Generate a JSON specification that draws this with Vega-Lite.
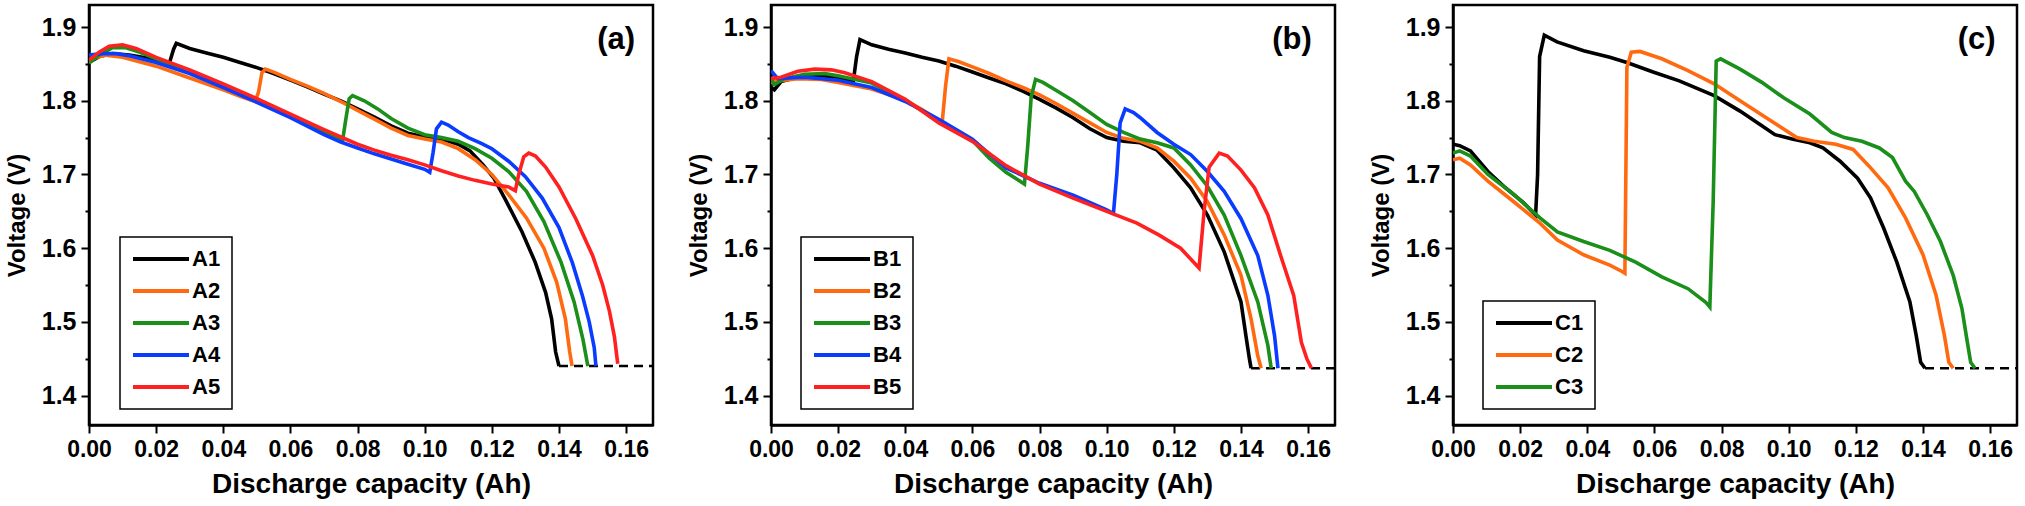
{
  "$schema": "https://vega.github.io/schema/vega-lite/v6.json",
  "padding": {"left": 3, "top": 3, "right": 5, "bottom": 0},
  "spacing": 30,
  "config": {
    "font": "Liberation Sans",
    "view": {"stroke": "black", "strokeWidth": 2.5},
    "axis": {
      "grid": false,
      "domainColor": "black",
      "domainWidth": 2.5,
      "tickColor": "black",
      "tickWidth": 2,
      "labelFont": "Liberation Sans",
      "labelFontWeight": "bold",
      "labelColor": "black",
      "labelOverlap": false,
      "labelFlush": false,
      "labelBound": false,
      "titleFont": "Liberation Sans",
      "titleFontWeight": "bold",
      "titleColor": "black"
    },
    "axisX": {"labelFontSize": 23, "labelPadding": 5, "titleFontSize": 28, "titlePadding": 9},
    "axisY": {"labelFontSize": 25, "labelPadding": 5, "titleFontSize": 24, "titlePadding": 12},
    "legend": {
      "strokeColor": "black",
      "strokeWidth": 1.5,
      "fillColor": "white",
      "padding": 11,
      "labelFont": "Liberation Sans",
      "labelFontSize": 22,
      "labelFontWeight": "bold",
      "labelColor": "black",
      "labelOffset": 20,
      "symbolType": "M-4,0H4",
      "symbolSize": 196,
      "symbolStrokeWidth": 4,
      "symbolOffset": 19,
      "rowPadding": 10
    },
    "text": {"font": "Liberation Sans"}
  },
  "datasets": {
    "a": [
      {"s": "A1", "x": 0, "v": 1.852}, {"s": "A1", "x": 0.003, "v": 1.86}, {"s": "A1", "x": 0.007, "v": 1.864}, {"s": "A1", "x": 0.012, "v": 1.862}, {"s": "A1", "x": 0.02, "v": 1.856}, {"s": "A1", "x": 0.024, "v": 1.852}, {"s": "A1", "x": 0.0252, "v": 1.87}, {"s": "A1", "x": 0.026, "v": 1.878}, {"s": "A1", "x": 0.03, "v": 1.871}, {"s": "A1", "x": 0.035, "v": 1.865}, {"s": "A1", "x": 0.04, "v": 1.859}, {"s": "A1", "x": 0.045, "v": 1.852}, {"s": "A1", "x": 0.05, "v": 1.845}, {"s": "A1", "x": 0.055, "v": 1.837}, {"s": "A1", "x": 0.06, "v": 1.828}, {"s": "A1", "x": 0.065, "v": 1.819}, {"s": "A1", "x": 0.07, "v": 1.809}, {"s": "A1", "x": 0.075, "v": 1.8}, {"s": "A1", "x": 0.08, "v": 1.789}, {"s": "A1", "x": 0.085, "v": 1.778}, {"s": "A1", "x": 0.09, "v": 1.766}, {"s": "A1", "x": 0.095, "v": 1.756}, {"s": "A1", "x": 0.1, "v": 1.751}, {"s": "A1", "x": 0.105, "v": 1.748}, {"s": "A1", "x": 0.11, "v": 1.741}, {"s": "A1", "x": 0.1135, "v": 1.732}, {"s": "A1", "x": 0.1174, "v": 1.713}, {"s": "A1", "x": 0.1206, "v": 1.695}, {"s": "A1", "x": 0.1238, "v": 1.668}, {"s": "A1", "x": 0.129, "v": 1.622}, {"s": "A1", "x": 0.1329, "v": 1.581}, {"s": "A1", "x": 0.136, "v": 1.54}, {"s": "A1", "x": 0.1378, "v": 1.504}, {"s": "A1", "x": 0.139, "v": 1.459}, {"s": "A1", "x": 0.14, "v": 1.44},
      {"s": "A2", "x": 0, "v": 1.856}, {"s": "A2", "x": 0.005, "v": 1.862}, {"s": "A2", "x": 0.01, "v": 1.859}, {"s": "A2", "x": 0.02, "v": 1.847}, {"s": "A2", "x": 0.03, "v": 1.831}, {"s": "A2", "x": 0.04, "v": 1.815}, {"s": "A2", "x": 0.045, "v": 1.806}, {"s": "A2", "x": 0.0495, "v": 1.799}, {"s": "A2", "x": 0.0505, "v": 1.812}, {"s": "A2", "x": 0.0515, "v": 1.838}, {"s": "A2", "x": 0.0525, "v": 1.843}, {"s": "A2", "x": 0.055, "v": 1.839}, {"s": "A2", "x": 0.06, "v": 1.829}, {"s": "A2", "x": 0.065, "v": 1.82}, {"s": "A2", "x": 0.07, "v": 1.81}, {"s": "A2", "x": 0.075, "v": 1.799}, {"s": "A2", "x": 0.08, "v": 1.787}, {"s": "A2", "x": 0.085, "v": 1.775}, {"s": "A2", "x": 0.09, "v": 1.763}, {"s": "A2", "x": 0.095, "v": 1.753}, {"s": "A2", "x": 0.1, "v": 1.748}, {"s": "A2", "x": 0.105, "v": 1.744}, {"s": "A2", "x": 0.11, "v": 1.735}, {"s": "A2", "x": 0.115, "v": 1.72}, {"s": "A2", "x": 0.12, "v": 1.7}, {"s": "A2", "x": 0.1251, "v": 1.672}, {"s": "A2", "x": 0.1303, "v": 1.641}, {"s": "A2", "x": 0.1355, "v": 1.6}, {"s": "A2", "x": 0.1393, "v": 1.554}, {"s": "A2", "x": 0.1419, "v": 1.504}, {"s": "A2", "x": 0.1432, "v": 1.459}, {"s": "A2", "x": 0.1439, "v": 1.44},
      {"s": "A3", "x": 0, "v": 1.851}, {"s": "A3", "x": 0.003, "v": 1.862}, {"s": "A3", "x": 0.007, "v": 1.872}, {"s": "A3", "x": 0.011, "v": 1.872}, {"s": "A3", "x": 0.015, "v": 1.866}, {"s": "A3", "x": 0.02, "v": 1.857}, {"s": "A3", "x": 0.03, "v": 1.84}, {"s": "A3", "x": 0.04, "v": 1.821}, {"s": "A3", "x": 0.05, "v": 1.801}, {"s": "A3", "x": 0.06, "v": 1.779}, {"s": "A3", "x": 0.07, "v": 1.757}, {"s": "A3", "x": 0.0755, "v": 1.745}, {"s": "A3", "x": 0.0765, "v": 1.775}, {"s": "A3", "x": 0.0775, "v": 1.803}, {"s": "A3", "x": 0.0785, "v": 1.807}, {"s": "A3", "x": 0.082, "v": 1.8}, {"s": "A3", "x": 0.086, "v": 1.789}, {"s": "A3", "x": 0.09, "v": 1.776}, {"s": "A3", "x": 0.095, "v": 1.763}, {"s": "A3", "x": 0.1, "v": 1.754}, {"s": "A3", "x": 0.105, "v": 1.75}, {"s": "A3", "x": 0.11, "v": 1.745}, {"s": "A3", "x": 0.115, "v": 1.735}, {"s": "A3", "x": 0.12, "v": 1.722}, {"s": "A3", "x": 0.125, "v": 1.704}, {"s": "A3", "x": 0.1303, "v": 1.677}, {"s": "A3", "x": 0.1355, "v": 1.636}, {"s": "A3", "x": 0.1406, "v": 1.581}, {"s": "A3", "x": 0.1445, "v": 1.527}, {"s": "A3", "x": 0.1471, "v": 1.477}, {"s": "A3", "x": 0.1486, "v": 1.44},
      {"s": "A4", "x": 0, "v": 1.862}, {"s": "A4", "x": 0.004, "v": 1.864}, {"s": "A4", "x": 0.008, "v": 1.864}, {"s": "A4", "x": 0.012, "v": 1.861}, {"s": "A4", "x": 0.02, "v": 1.852}, {"s": "A4", "x": 0.03, "v": 1.837}, {"s": "A4", "x": 0.04, "v": 1.818}, {"s": "A4", "x": 0.05, "v": 1.798}, {"s": "A4", "x": 0.06, "v": 1.777}, {"s": "A4", "x": 0.07, "v": 1.754}, {"s": "A4", "x": 0.075, "v": 1.744}, {"s": "A4", "x": 0.08, "v": 1.736}, {"s": "A4", "x": 0.085, "v": 1.728}, {"s": "A4", "x": 0.09, "v": 1.721}, {"s": "A4", "x": 0.095, "v": 1.714}, {"s": "A4", "x": 0.1, "v": 1.707}, {"s": "A4", "x": 0.1015, "v": 1.703}, {"s": "A4", "x": 0.1025, "v": 1.73}, {"s": "A4", "x": 0.1035, "v": 1.762}, {"s": "A4", "x": 0.105, "v": 1.771}, {"s": "A4", "x": 0.107, "v": 1.767}, {"s": "A4", "x": 0.11, "v": 1.758}, {"s": "A4", "x": 0.113, "v": 1.75}, {"s": "A4", "x": 0.117, "v": 1.742}, {"s": "A4", "x": 0.12, "v": 1.735}, {"s": "A4", "x": 0.125, "v": 1.718}, {"s": "A4", "x": 0.13, "v": 1.697}, {"s": "A4", "x": 0.135, "v": 1.668}, {"s": "A4", "x": 0.14, "v": 1.628}, {"s": "A4", "x": 0.144, "v": 1.58}, {"s": "A4", "x": 0.147, "v": 1.535}, {"s": "A4", "x": 0.149, "v": 1.5}, {"s": "A4", "x": 0.1505, "v": 1.465}, {"s": "A4", "x": 0.151, "v": 1.44},
      {"s": "A5", "x": 0, "v": 1.855}, {"s": "A5", "x": 0.003, "v": 1.866}, {"s": "A5", "x": 0.006, "v": 1.874}, {"s": "A5", "x": 0.01, "v": 1.876}, {"s": "A5", "x": 0.014, "v": 1.871}, {"s": "A5", "x": 0.02, "v": 1.859}, {"s": "A5", "x": 0.03, "v": 1.842}, {"s": "A5", "x": 0.04, "v": 1.823}, {"s": "A5", "x": 0.05, "v": 1.803}, {"s": "A5", "x": 0.06, "v": 1.782}, {"s": "A5", "x": 0.07, "v": 1.761}, {"s": "A5", "x": 0.08, "v": 1.741}, {"s": "A5", "x": 0.085, "v": 1.733}, {"s": "A5", "x": 0.09, "v": 1.726}, {"s": "A5", "x": 0.095, "v": 1.72}, {"s": "A5", "x": 0.1, "v": 1.713}, {"s": "A5", "x": 0.105, "v": 1.705}, {"s": "A5", "x": 0.11, "v": 1.698}, {"s": "A5", "x": 0.115, "v": 1.692}, {"s": "A5", "x": 0.12, "v": 1.687}, {"s": "A5", "x": 0.125, "v": 1.683}, {"s": "A5", "x": 0.127, "v": 1.678}, {"s": "A5", "x": 0.128, "v": 1.7}, {"s": "A5", "x": 0.1295, "v": 1.724}, {"s": "A5", "x": 0.131, "v": 1.729}, {"s": "A5", "x": 0.133, "v": 1.725}, {"s": "A5", "x": 0.136, "v": 1.71}, {"s": "A5", "x": 0.14, "v": 1.683}, {"s": "A5", "x": 0.145, "v": 1.64}, {"s": "A5", "x": 0.15, "v": 1.59}, {"s": "A5", "x": 0.153, "v": 1.55}, {"s": "A5", "x": 0.155, "v": 1.515}, {"s": "A5", "x": 0.1565, "v": 1.48}, {"s": "A5", "x": 0.1575, "v": 1.443}
    ],
    "b": [
      {"s": "B1", "x": 0, "v": 1.818}, {"s": "B1", "x": 0.001, "v": 1.815}, {"s": "B1", "x": 0.003, "v": 1.826}, {"s": "B1", "x": 0.008, "v": 1.832}, {"s": "B1", "x": 0.015, "v": 1.834}, {"s": "B1", "x": 0.02, "v": 1.832}, {"s": "B1", "x": 0.0245, "v": 1.826}, {"s": "B1", "x": 0.0255, "v": 1.86}, {"s": "B1", "x": 0.0265, "v": 1.883}, {"s": "B1", "x": 0.03, "v": 1.876}, {"s": "B1", "x": 0.035, "v": 1.87}, {"s": "B1", "x": 0.04, "v": 1.865}, {"s": "B1", "x": 0.045, "v": 1.859}, {"s": "B1", "x": 0.05, "v": 1.854}, {"s": "B1", "x": 0.055, "v": 1.847}, {"s": "B1", "x": 0.06, "v": 1.839}, {"s": "B1", "x": 0.065, "v": 1.831}, {"s": "B1", "x": 0.07, "v": 1.823}, {"s": "B1", "x": 0.075, "v": 1.813}, {"s": "B1", "x": 0.08, "v": 1.802}, {"s": "B1", "x": 0.085, "v": 1.79}, {"s": "B1", "x": 0.09, "v": 1.777}, {"s": "B1", "x": 0.095, "v": 1.762}, {"s": "B1", "x": 0.1, "v": 1.75}, {"s": "B1", "x": 0.105, "v": 1.745}, {"s": "B1", "x": 0.11, "v": 1.743}, {"s": "B1", "x": 0.115, "v": 1.733}, {"s": "B1", "x": 0.12, "v": 1.709}, {"s": "B1", "x": 0.125, "v": 1.682}, {"s": "B1", "x": 0.13, "v": 1.645}, {"s": "B1", "x": 0.135, "v": 1.595}, {"s": "B1", "x": 0.14, "v": 1.527}, {"s": "B1", "x": 0.1415, "v": 1.48}, {"s": "B1", "x": 0.1425, "v": 1.45}, {"s": "B1", "x": 0.143, "v": 1.437},
      {"s": "B2", "x": 0, "v": 1.824}, {"s": "B2", "x": 0.002, "v": 1.827}, {"s": "B2", "x": 0.008, "v": 1.83}, {"s": "B2", "x": 0.015, "v": 1.829}, {"s": "B2", "x": 0.02, "v": 1.825}, {"s": "B2", "x": 0.03, "v": 1.816}, {"s": "B2", "x": 0.04, "v": 1.801}, {"s": "B2", "x": 0.045, "v": 1.788}, {"s": "B2", "x": 0.05, "v": 1.774}, {"s": "B2", "x": 0.051, "v": 1.771}, {"s": "B2", "x": 0.052, "v": 1.82}, {"s": "B2", "x": 0.053, "v": 1.857}, {"s": "B2", "x": 0.056, "v": 1.853}, {"s": "B2", "x": 0.06, "v": 1.846}, {"s": "B2", "x": 0.065, "v": 1.837}, {"s": "B2", "x": 0.07, "v": 1.827}, {"s": "B2", "x": 0.075, "v": 1.818}, {"s": "B2", "x": 0.08, "v": 1.808}, {"s": "B2", "x": 0.085, "v": 1.796}, {"s": "B2", "x": 0.09, "v": 1.783}, {"s": "B2", "x": 0.095, "v": 1.77}, {"s": "B2", "x": 0.1, "v": 1.757}, {"s": "B2", "x": 0.105, "v": 1.749}, {"s": "B2", "x": 0.11, "v": 1.745}, {"s": "B2", "x": 0.115, "v": 1.736}, {"s": "B2", "x": 0.12, "v": 1.718}, {"s": "B2", "x": 0.125, "v": 1.695}, {"s": "B2", "x": 0.13, "v": 1.663}, {"s": "B2", "x": 0.135, "v": 1.618}, {"s": "B2", "x": 0.14, "v": 1.563}, {"s": "B2", "x": 0.143, "v": 1.504}, {"s": "B2", "x": 0.145, "v": 1.454}, {"s": "B2", "x": 0.146, "v": 1.437},
      {"s": "B3", "x": 0, "v": 1.83}, {"s": "B3", "x": 0.001, "v": 1.822}, {"s": "B3", "x": 0.004, "v": 1.83}, {"s": "B3", "x": 0.01, "v": 1.836}, {"s": "B3", "x": 0.016, "v": 1.837}, {"s": "B3", "x": 0.02, "v": 1.834}, {"s": "B3", "x": 0.03, "v": 1.824}, {"s": "B3", "x": 0.04, "v": 1.801}, {"s": "B3", "x": 0.05, "v": 1.772}, {"s": "B3", "x": 0.06, "v": 1.746}, {"s": "B3", "x": 0.065, "v": 1.722}, {"s": "B3", "x": 0.07, "v": 1.703}, {"s": "B3", "x": 0.0755, "v": 1.687}, {"s": "B3", "x": 0.0765, "v": 1.74}, {"s": "B3", "x": 0.0775, "v": 1.805}, {"s": "B3", "x": 0.0788, "v": 1.829}, {"s": "B3", "x": 0.081, "v": 1.825}, {"s": "B3", "x": 0.085, "v": 1.814}, {"s": "B3", "x": 0.09, "v": 1.8}, {"s": "B3", "x": 0.095, "v": 1.784}, {"s": "B3", "x": 0.1, "v": 1.768}, {"s": "B3", "x": 0.105, "v": 1.757}, {"s": "B3", "x": 0.11, "v": 1.748}, {"s": "B3", "x": 0.115, "v": 1.743}, {"s": "B3", "x": 0.12, "v": 1.736}, {"s": "B3", "x": 0.125, "v": 1.713}, {"s": "B3", "x": 0.13, "v": 1.684}, {"s": "B3", "x": 0.135, "v": 1.645}, {"s": "B3", "x": 0.14, "v": 1.59}, {"s": "B3", "x": 0.145, "v": 1.527}, {"s": "B3", "x": 0.148, "v": 1.468}, {"s": "B3", "x": 0.149, "v": 1.437},
      {"s": "B4", "x": 0, "v": 1.841}, {"s": "B4", "x": 0.002, "v": 1.83}, {"s": "B4", "x": 0.005, "v": 1.831}, {"s": "B4", "x": 0.01, "v": 1.832}, {"s": "B4", "x": 0.02, "v": 1.828}, {"s": "B4", "x": 0.03, "v": 1.818}, {"s": "B4", "x": 0.04, "v": 1.799}, {"s": "B4", "x": 0.05, "v": 1.775}, {"s": "B4", "x": 0.06, "v": 1.748}, {"s": "B4", "x": 0.065, "v": 1.728}, {"s": "B4", "x": 0.07, "v": 1.709}, {"s": "B4", "x": 0.08, "v": 1.688}, {"s": "B4", "x": 0.09, "v": 1.672}, {"s": "B4", "x": 0.1, "v": 1.652}, {"s": "B4", "x": 0.102, "v": 1.647}, {"s": "B4", "x": 0.103, "v": 1.7}, {"s": "B4", "x": 0.104, "v": 1.77}, {"s": "B4", "x": 0.1055, "v": 1.789}, {"s": "B4", "x": 0.108, "v": 1.784}, {"s": "B4", "x": 0.11, "v": 1.777}, {"s": "B4", "x": 0.115, "v": 1.757}, {"s": "B4", "x": 0.12, "v": 1.741}, {"s": "B4", "x": 0.125, "v": 1.727}, {"s": "B4", "x": 0.13, "v": 1.704}, {"s": "B4", "x": 0.135, "v": 1.677}, {"s": "B4", "x": 0.14, "v": 1.64}, {"s": "B4", "x": 0.145, "v": 1.59}, {"s": "B4", "x": 0.148, "v": 1.536}, {"s": "B4", "x": 0.15, "v": 1.481}, {"s": "B4", "x": 0.151, "v": 1.437},
      {"s": "B5", "x": 0, "v": 1.83}, {"s": "B5", "x": 0.003, "v": 1.832}, {"s": "B5", "x": 0.008, "v": 1.84}, {"s": "B5", "x": 0.013, "v": 1.843}, {"s": "B5", "x": 0.018, "v": 1.842}, {"s": "B5", "x": 0.022, "v": 1.838}, {"s": "B5", "x": 0.03, "v": 1.826}, {"s": "B5", "x": 0.04, "v": 1.802}, {"s": "B5", "x": 0.05, "v": 1.77}, {"s": "B5", "x": 0.06, "v": 1.745}, {"s": "B5", "x": 0.07, "v": 1.712}, {"s": "B5", "x": 0.08, "v": 1.687}, {"s": "B5", "x": 0.09, "v": 1.668}, {"s": "B5", "x": 0.1, "v": 1.65}, {"s": "B5", "x": 0.109, "v": 1.634}, {"s": "B5", "x": 0.1155, "v": 1.618}, {"s": "B5", "x": 0.122, "v": 1.6}, {"s": "B5", "x": 0.1275, "v": 1.573}, {"s": "B5", "x": 0.129, "v": 1.65}, {"s": "B5", "x": 0.1305, "v": 1.71}, {"s": "B5", "x": 0.1335, "v": 1.729}, {"s": "B5", "x": 0.136, "v": 1.725}, {"s": "B5", "x": 0.14, "v": 1.706}, {"s": "B5", "x": 0.144, "v": 1.682}, {"s": "B5", "x": 0.148, "v": 1.645}, {"s": "B5", "x": 0.1518, "v": 1.59}, {"s": "B5", "x": 0.1557, "v": 1.536}, {"s": "B5", "x": 0.158, "v": 1.472}, {"s": "B5", "x": 0.1596, "v": 1.45}, {"s": "B5", "x": 0.161, "v": 1.437}
    ],
    "c": [
      {"s": "C1", "x": 0, "v": 1.741}, {"s": "C1", "x": 0.002, "v": 1.739}, {"s": "C1", "x": 0.0052, "v": 1.732}, {"s": "C1", "x": 0.0104, "v": 1.704}, {"s": "C1", "x": 0.0156, "v": 1.682}, {"s": "C1", "x": 0.0207, "v": 1.663}, {"s": "C1", "x": 0.0246, "v": 1.645}, {"s": "C1", "x": 0.0252, "v": 1.7}, {"s": "C1", "x": 0.0258, "v": 1.86}, {"s": "C1", "x": 0.0272, "v": 1.889}, {"s": "C1", "x": 0.031, "v": 1.88}, {"s": "C1", "x": 0.0389, "v": 1.868}, {"s": "C1", "x": 0.0467, "v": 1.859}, {"s": "C1", "x": 0.0518, "v": 1.852}, {"s": "C1", "x": 0.0596, "v": 1.839}, {"s": "C1", "x": 0.0674, "v": 1.827}, {"s": "C1", "x": 0.0778, "v": 1.807}, {"s": "C1", "x": 0.0855, "v": 1.786}, {"s": "C1", "x": 0.092, "v": 1.766}, {"s": "C1", "x": 0.0959, "v": 1.754}, {"s": "C1", "x": 0.101, "v": 1.748}, {"s": "C1", "x": 0.1063, "v": 1.743}, {"s": "C1", "x": 0.1102, "v": 1.736}, {"s": "C1", "x": 0.1153, "v": 1.718}, {"s": "C1", "x": 0.1205, "v": 1.695}, {"s": "C1", "x": 0.1244, "v": 1.668}, {"s": "C1", "x": 0.1283, "v": 1.627}, {"s": "C1", "x": 0.1322, "v": 1.581}, {"s": "C1", "x": 0.1361, "v": 1.527}, {"s": "C1", "x": 0.138, "v": 1.481}, {"s": "C1", "x": 0.1393, "v": 1.445}, {"s": "C1", "x": 0.1406, "v": 1.437},
      {"s": "C2", "x": 0, "v": 1.72}, {"s": "C2", "x": 0.002, "v": 1.722}, {"s": "C2", "x": 0.0052, "v": 1.713}, {"s": "C2", "x": 0.0104, "v": 1.691}, {"s": "C2", "x": 0.0181, "v": 1.663}, {"s": "C2", "x": 0.0259, "v": 1.634}, {"s": "C2", "x": 0.0311, "v": 1.611}, {"s": "C2", "x": 0.0389, "v": 1.591}, {"s": "C2", "x": 0.0467, "v": 1.577}, {"s": "C2", "x": 0.0505, "v": 1.568}, {"s": "C2", "x": 0.0512, "v": 1.566}, {"s": "C2", "x": 0.0518, "v": 1.845}, {"s": "C2", "x": 0.0531, "v": 1.866}, {"s": "C2", "x": 0.0557, "v": 1.867}, {"s": "C2", "x": 0.0622, "v": 1.857}, {"s": "C2", "x": 0.07, "v": 1.841}, {"s": "C2", "x": 0.0778, "v": 1.823}, {"s": "C2", "x": 0.0855, "v": 1.8}, {"s": "C2", "x": 0.0933, "v": 1.777}, {"s": "C2", "x": 0.1024, "v": 1.75}, {"s": "C2", "x": 0.1076, "v": 1.745}, {"s": "C2", "x": 0.114, "v": 1.741}, {"s": "C2", "x": 0.1192, "v": 1.734}, {"s": "C2", "x": 0.1244, "v": 1.709}, {"s": "C2", "x": 0.1296, "v": 1.682}, {"s": "C2", "x": 0.1348, "v": 1.641}, {"s": "C2", "x": 0.14, "v": 1.591}, {"s": "C2", "x": 0.1439, "v": 1.536}, {"s": "C2", "x": 0.1464, "v": 1.481}, {"s": "C2", "x": 0.1477, "v": 1.445}, {"s": "C2", "x": 0.149, "v": 1.437},
      {"s": "C3", "x": 0, "v": 1.729}, {"s": "C3", "x": 0.002, "v": 1.732}, {"s": "C3", "x": 0.0052, "v": 1.725}, {"s": "C3", "x": 0.0104, "v": 1.7}, {"s": "C3", "x": 0.0181, "v": 1.673}, {"s": "C3", "x": 0.0259, "v": 1.641}, {"s": "C3", "x": 0.0311, "v": 1.622}, {"s": "C3", "x": 0.0389, "v": 1.609}, {"s": "C3", "x": 0.0467, "v": 1.597}, {"s": "C3", "x": 0.0544, "v": 1.581}, {"s": "C3", "x": 0.0622, "v": 1.561}, {"s": "C3", "x": 0.07, "v": 1.545}, {"s": "C3", "x": 0.0752, "v": 1.527}, {"s": "C3", "x": 0.0765, "v": 1.52}, {"s": "C3", "x": 0.0775, "v": 1.663}, {"s": "C3", "x": 0.0784, "v": 1.854}, {"s": "C3", "x": 0.0797, "v": 1.857}, {"s": "C3", "x": 0.0855, "v": 1.843}, {"s": "C3", "x": 0.092, "v": 1.825}, {"s": "C3", "x": 0.0985, "v": 1.804}, {"s": "C3", "x": 0.1063, "v": 1.782}, {"s": "C3", "x": 0.1128, "v": 1.757}, {"s": "C3", "x": 0.1166, "v": 1.75}, {"s": "C3", "x": 0.1218, "v": 1.745}, {"s": "C3", "x": 0.127, "v": 1.736}, {"s": "C3", "x": 0.1309, "v": 1.723}, {"s": "C3", "x": 0.1348, "v": 1.691}, {"s": "C3", "x": 0.1374, "v": 1.677}, {"s": "C3", "x": 0.1413, "v": 1.645}, {"s": "C3", "x": 0.1452, "v": 1.609}, {"s": "C3", "x": 0.149, "v": 1.563}, {"s": "C3", "x": 0.1516, "v": 1.518}, {"s": "C3", "x": 0.1529, "v": 1.481}, {"s": "C3", "x": 0.1542, "v": 1.445}, {"s": "C3", "x": 0.1555, "v": 1.437}
    ],
    "cutA": [{"x": 0.14, "v": 1.44}, {"x": 0.168, "v": 1.44}],
    "cutB": [{"x": 0.143, "v": 1.437}, {"x": 0.168, "v": 1.437}],
    "cutC": [{"x": 0.1406, "v": 1.437}, {"x": 0.168, "v": 1.437}]
  },
  "hconcat": [
    {
      "width": 564,
      "height": 420,
      "layer": [
        {
          "data": {"name": "cutA"},
          "mark": {"type": "line", "color": "black", "strokeWidth": 2.5, "strokeDash": [9, 6], "clip": true},
          "encoding": {
            "x": {"field": "x", "type": "quantitative"},
            "y": {"field": "v", "type": "quantitative"}
          }
        },
        {
          "data": {"name": "a"},
          "mark": {"type": "line", "strokeWidth": 3.6, "clip": true},
          "encoding": {
            "x": {
              "field": "x", "type": "quantitative", "title": "Discharge capacity (Ah)",
              "scale": {"domain": [0, 0.168], "nice": false, "zero": false},
              "axis": {
                "values": [0, 0.01, 0.02, 0.03, 0.04, 0.05, 0.06, 0.07, 0.08, 0.09, 0.1, 0.11, 0.12, 0.13, 0.14, 0.15, 0.16],
                "labelExpr": "round(datum.value * 100) % 2 == 0 ? format(datum.value, '.2f') : ''",
                "tickSize": {"condition": {"test": "round(datum.value * 100) % 2 == 0", "value": 8}, "value": 4}
              }
            },
            "y": {
              "field": "v", "type": "quantitative", "title": "Voltage (V)",
              "scale": {"domain": [1.36, 1.93], "nice": false, "zero": false},
              "axis": {
                "values": [1.4, 1.45, 1.5, 1.55, 1.6, 1.65, 1.7, 1.75, 1.8, 1.85, 1.9],
                "labelExpr": "round(datum.value * 100) % 10 == 0 ? format(datum.value, '.1f') : ''",
                "tickSize": {"condition": {"test": "round(datum.value * 100) % 10 == 0", "value": 8}, "value": 4}
              }
            },
            "color": {
              "field": "s", "type": "nominal", "title": null,
              "scale": {"domain": ["A1", "A2", "A3", "A4", "A5"], "range": ["#000000", "#FF6A10", "#1A8F1A", "#0A3CFF", "#FF2020"]},
              "legend": {"orient": "none", "legendX": 31, "legendY": 232}
            }
          }
        },
        {
          "data": {"values": [{"tag": "(a)", "x": 0.157, "v": 1.882}]},
          "mark": {"type": "text", "fontSize": 31, "fontWeight": "bold", "color": "black"},
          "encoding": {
            "x": {"field": "x", "type": "quantitative"},
            "y": {"field": "v", "type": "quantitative"},
            "text": {"field": "tag"}
          }
        }
      ]
    },
    {
      "width": 564,
      "height": 420,
      "layer": [
        {
          "data": {"name": "cutB"},
          "mark": {"type": "line", "color": "black", "strokeWidth": 2.5, "strokeDash": [9, 6], "clip": true},
          "encoding": {
            "x": {"field": "x", "type": "quantitative"},
            "y": {"field": "v", "type": "quantitative"}
          }
        },
        {
          "data": {"name": "b"},
          "mark": {"type": "line", "strokeWidth": 3.6, "clip": true},
          "encoding": {
            "x": {
              "field": "x", "type": "quantitative", "title": "Discharge capacity (Ah)",
              "scale": {"domain": [0, 0.168], "nice": false, "zero": false},
              "axis": {
                "values": [0, 0.01, 0.02, 0.03, 0.04, 0.05, 0.06, 0.07, 0.08, 0.09, 0.1, 0.11, 0.12, 0.13, 0.14, 0.15, 0.16],
                "labelExpr": "round(datum.value * 100) % 2 == 0 ? format(datum.value, '.2f') : ''",
                "tickSize": {"condition": {"test": "round(datum.value * 100) % 2 == 0", "value": 8}, "value": 4}
              }
            },
            "y": {
              "field": "v", "type": "quantitative", "title": "Voltage (V)",
              "scale": {"domain": [1.36, 1.93], "nice": false, "zero": false},
              "axis": {
                "values": [1.4, 1.45, 1.5, 1.55, 1.6, 1.65, 1.7, 1.75, 1.8, 1.85, 1.9],
                "labelExpr": "round(datum.value * 100) % 10 == 0 ? format(datum.value, '.1f') : ''",
                "tickSize": {"condition": {"test": "round(datum.value * 100) % 10 == 0", "value": 8}, "value": 4}
              }
            },
            "color": {
              "field": "s", "type": "nominal", "title": null,
              "scale": {"domain": ["B1", "B2", "B3", "B4", "B5"], "range": ["#000000", "#FF6A10", "#1A8F1A", "#0A3CFF", "#FF2020"]},
              "legend": {"orient": "none", "legendX": 30, "legendY": 232}
            }
          }
        },
        {
          "data": {"values": [{"tag": "(b)", "x": 0.1552, "v": 1.882}]},
          "mark": {"type": "text", "fontSize": 31, "fontWeight": "bold", "color": "black"},
          "encoding": {
            "x": {"field": "x", "type": "quantitative"},
            "y": {"field": "v", "type": "quantitative"},
            "text": {"field": "tag"}
          }
        }
      ]
    },
    {
      "width": 564,
      "height": 420,
      "layer": [
        {
          "data": {"name": "cutC"},
          "mark": {"type": "line", "color": "black", "strokeWidth": 2.5, "strokeDash": [9, 6], "clip": true},
          "encoding": {
            "x": {"field": "x", "type": "quantitative"},
            "y": {"field": "v", "type": "quantitative"}
          }
        },
        {
          "data": {"name": "c"},
          "mark": {"type": "line", "strokeWidth": 3.6, "clip": true},
          "encoding": {
            "x": {
              "field": "x", "type": "quantitative", "title": "Discharge capacity (Ah)",
              "scale": {"domain": [0, 0.168], "nice": false, "zero": false},
              "axis": {
                "values": [0, 0.01, 0.02, 0.03, 0.04, 0.05, 0.06, 0.07, 0.08, 0.09, 0.1, 0.11, 0.12, 0.13, 0.14, 0.15, 0.16],
                "labelExpr": "round(datum.value * 100) % 2 == 0 ? format(datum.value, '.2f') : ''",
                "tickSize": {"condition": {"test": "round(datum.value * 100) % 2 == 0", "value": 8}, "value": 4}
              }
            },
            "y": {
              "field": "v", "type": "quantitative", "title": "Voltage (V)",
              "scale": {"domain": [1.36, 1.93], "nice": false, "zero": false},
              "axis": {
                "values": [1.4, 1.45, 1.5, 1.55, 1.6, 1.65, 1.7, 1.75, 1.8, 1.85, 1.9],
                "labelExpr": "round(datum.value * 100) % 10 == 0 ? format(datum.value, '.1f') : ''",
                "tickSize": {"condition": {"test": "round(datum.value * 100) % 10 == 0", "value": 8}, "value": 4}
              }
            },
            "color": {
              "field": "s", "type": "nominal", "title": null,
              "scale": {"domain": ["C1", "C2", "C3"], "range": ["#000000", "#FF6A10", "#1A8F1A"]},
              "legend": {"orient": "none", "legendX": 30, "legendY": 296}
            }
          }
        },
        {
          "data": {"values": [{"tag": "(c)", "x": 0.156, "v": 1.882}]},
          "mark": {"type": "text", "fontSize": 31, "fontWeight": "bold", "color": "black"},
          "encoding": {
            "x": {"field": "x", "type": "quantitative"},
            "y": {"field": "v", "type": "quantitative"},
            "text": {"field": "tag"}
          }
        }
      ]
    }
  ],
  "resolve": {"scale": {"color": "independent"}, "legend": {"color": "independent"}}
}
